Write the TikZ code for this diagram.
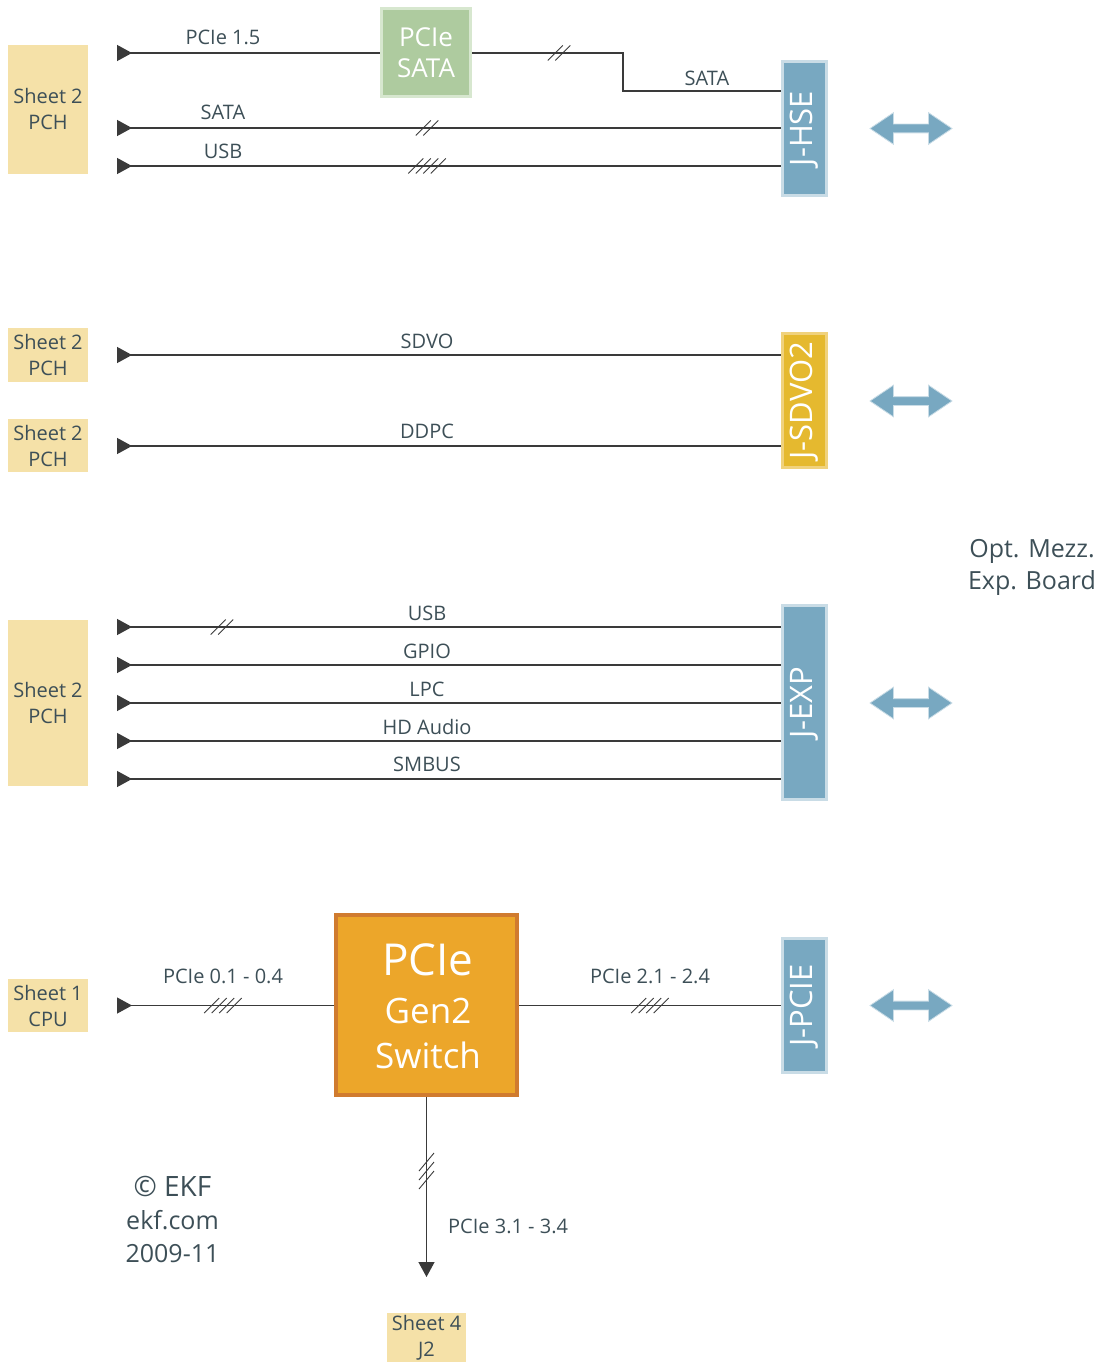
\documentclass[tikz,border=0pt]{standalone}
\usepackage{fontspec}
\setmainfont{Open Sans}
\usetikzlibrary{arrows.meta,shapes.arrows}
\definecolor{txt}{HTML}{3D4F57}
\definecolor{sheetc}{HTML}{F5E1A8}
\definecolor{bluec}{HTML}{78A8C1}
\definecolor{bluel}{HTML}{C9DCE6}
\definecolor{goldc}{HTML}{E5B92F}
\definecolor{goldl}{HTML}{F0D27D}
\definecolor{greenc}{HTML}{AECB9F}
\definecolor{greenl}{HTML}{D7E7CF}
\definecolor{orangec}{HTML}{ECA62A}
\definecolor{oranged}{HTML}{D07B2F}
\definecolor{linec}{HTML}{3A3A3A}
\newcommand\fs[2]{\fontsize{#1}{#2}\selectfont}
\newcommand\busmarks[3]{%
  \foreach \i in {1,...,#3}{\draw[slashline] ({#1+(\i-(#3+1)/2)*7.5-7.5},{#2+7.5}) -- ++(15,-15);}}
\newcommand\vbusmarks[3]{%
  \foreach \i in {1,...,#3}{\draw[slashline] ({#1-7.5},{#2+(\i-(#3+1)/2)*9+9}) -- ++(15,-18);}}
\begin{document}
\begin{tikzpicture}[x=1pt,y=-1pt,
  sheet/.style={fill=sheetc, inner sep=0pt, outer sep=0pt, align=center, text=txt, font=\fs{20}{26}, minimum width=80pt},
  conn/.style={fill=bluec, draw=bluel, line width=3pt, inner sep=0pt, outer sep=1.5pt, minimum width=44pt},
  connt/.style={text=white, font=\fs{31}{31}, rotate=90, inner sep=0pt},
  lbl/.style={text=txt, font=\fs{20}{24}, anchor=base, inner sep=0pt},
  sig/.style={draw=linec, line width=1.3pt},
  sigin/.style={sig, {Triangle[reversed,length=15pt,width=16pt]}-},
  slashline/.style={draw=linec, line width=0.9pt},
  bidir/.style={double arrow, fill=bluec, draw=bluel, line width=0.8pt, minimum height=82pt, minimum width=31pt,
    double arrow head extend=11.5pt, double arrow tip angle=68, inner xsep=0pt, inner ysep=4pt}]
\useasboundingbox (0,0) rectangle (1108,1362);

% Sheet boxes
\node[sheet, minimum height=129pt] (pchA) at (48,109.5) {Sheet 2\\PCH};
\node[sheet, minimum height=54pt] (pchB) at (48,355) {Sheet 2\\PCH};
\node[sheet, minimum height=53pt] (pchC) at (48,445.5) {Sheet 2\\PCH};
\node[sheet, minimum height=166pt] (pchD) at (48,703) {Sheet 2\\PCH};
\node[sheet, minimum height=53pt] (cpu) at (48,1005.5) {Sheet 1\\CPU};
\node[sheet, minimum width=79pt, minimum height=51pt] (j2) at (426.5,1338) {Sheet 4\\J2};

% connectors
\node[conn, minimum height=134pt] (hse) at (804.5,128.5) {};
\node[connt] (hset) at (hse) {J-HSE};
\node[conn, fill=goldc, draw=goldl, minimum height=134pt] (sdvo) at (804.5,400.5) {};
\node[connt] (sdvot) at (sdvo) {J-SDVO2};
\node[conn, minimum height=194pt] (exp) at (804.5,702.5) {};
\node[connt] (expt) at (exp) {J-EXP};
\node[conn, minimum height=134pt] (pcie) at (804.5,1005.5) {};
\node[connt] (pciet) at (pcie) {J-PCIE};

% double arrows
\node[bidir] (ar1) at (911,128.5) {};
\node[bidir] (ar2) at (911,401) {};
\node[bidir] (ar3) at (911,703) {};
\node[bidir] (ar4) at (911,1005.5) {};

% PCIe SATA bridge
\node[fill=greenc, draw=greenl, line width=3pt, inner sep=0pt, outer sep=1.5pt, minimum width=89pt, minimum height=88pt] (psata) at (426,52.5) {};
\node[text=white, font=\fs{26}{26}, anchor=base, inner sep=0pt] (psata1) at (426,47) {PCIe};
\node[text=white, font=\fs{26}{26}, anchor=base, inner sep=0pt] (psata2) at (426,78) {SATA};

% PCIe switch
\node[fill=orangec, draw=oranged, line width=4pt, inner sep=0pt, outer sep=2pt, minimum width=181pt, minimum height=180pt] (sw) at (426.5,1005) {};
\node[text=white, font=\fs{44}{44}, anchor=base, inner sep=0pt] (sw1) at (428,975) {PCIe};
\node[text=white, font=\fs{35}{35}, anchor=base, inner sep=0pt] (sw2) at (428,1023) {Gen2};
\node[text=white, font=\fs{35}{35}, anchor=base, inner sep=0pt] (sw3) at (428,1068) {Switch};

% start coordinates
\coordinate (a1) at (117,53);
\coordinate (a2) at (117,128);
\coordinate (a3) at (117,166);
\coordinate (b1) at (117,355);
\coordinate (b2) at (117,446);
\coordinate (c1) at (117,627);
\coordinate (c2) at (117,665);
\coordinate (c3) at (117,703);
\coordinate (c4) at (117,741);
\coordinate (c5) at (117,779);
\coordinate (d1) at (117,1005.5);
\coordinate (e1) at (426.5,1277);

% signals section 1
\draw[sigin] (a1) -- (a1 -| psata.west);
\draw[sig] (psata.east |- a1) -- (623,53) -- (623,91) -- (hse.west |- 0,91);
\draw[sigin] (a2) -- (a2 -| hse.west);
\draw[sigin] (a3) -- (a3 -| hse.west);
\busmarks{559}{53}{2}
\busmarks{427}{128}{2}
\busmarks{427}{166}{4}
\node[lbl] (l1) at (223,45) {PCIe 1.5};
\node[lbl] (l2) at (223,120) {SATA};
\node[lbl] (l3) at (223,158) {USB};
\node[lbl] (l4) at (707,86) {SATA};

% section 2
\draw[sigin] (b1) -- (b1 -| sdvo.west);
\draw[sigin] (b2) -- (b2 -| sdvo.west);
\node[lbl] (l5) at (427,348) {SDVO};
\node[lbl] (l6) at (427,438) {DDPC};

% section 3
\draw[sigin] (c1) -- (c1 -| exp.west);
\draw[sigin] (c2) -- (c2 -| exp.west);
\draw[sigin] (c3) -- (c3 -| exp.west);
\draw[sigin] (c4) -- (c4 -| exp.west);
\draw[sigin] (c5) -- (c5 -| exp.west);
\busmarks{222}{627}{2}
\node[lbl] (l7) at (427,620) {USB};
\node[lbl] (l8) at (427,658) {GPIO};
\node[lbl] (l9) at (427,696) {LPC};
\node[lbl] (l10) at (427,734) {HD Audio};
\node[lbl] (l11) at (427,771) {SMBUS};

% section 4
\draw[sigin] (d1) -- (d1 -| sw.west);
\draw[sig] (sw.east |- d1) -- (d1 -| pcie.west);
\draw[sig, -{Triangle[length=15pt,width=16pt]}] (sw.south) -- (e1);
\busmarks{223}{1005.5}{4}
\busmarks{650}{1005.5}{4}
\vbusmarks{426.5}{1171}{3}
\node[lbl] (l12) at (223,983) {PCIe 0.1 - 0.4};
\node[lbl] (l13) at (650,983) {PCIe 2.1 - 2.4};
\node[lbl, anchor=base west] (l14) at (448,1233) {PCIe 3.1 - 3.4};

% side texts
\node[text=txt, font=\fs{25}{32}, anchor=base, inner sep=0pt] (mz1) at (1032,557) {Opt. Mezz.};
\node[text=txt, font=\fs{25}{32}, anchor=base, inner sep=0pt] (mz2) at (1032,589) {Exp. Board};
\node[text=txt, font=\fs{28}{32}, anchor=base, inner sep=0pt] (ekf1) at (172.5,1196) {© EKF};
\node[text=txt, font=\fs{25}{32}, anchor=base, inner sep=0pt] (ekf2) at (172.5,1229) {ekf.com};
\node[text=txt, font=\fs{25}{32}, anchor=base, inner sep=0pt] (ekf3) at (172.5,1262) {2009-11};
\end{tikzpicture}
\end{document}
